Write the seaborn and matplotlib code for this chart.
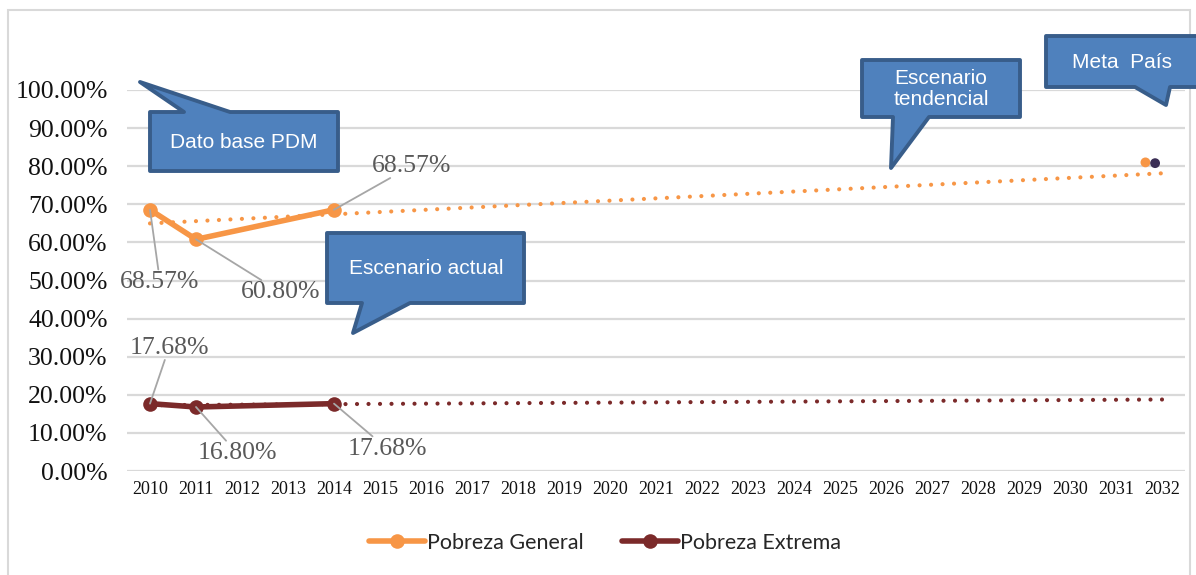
import numpy as np
import pandas as pd
import matplotlib
matplotlib.use("Agg")
import matplotlib.pyplot as plt
import seaborn as sns
from matplotlib import font_manager
from matplotlib.patches import Polygon, Rectangle
from matplotlib.lines import Line2D

# ---------------- data ----------------
years = ["2010", "2011", "2012", "2013", "2014", "2015", "2016", "2017", "2018",
         "2019", "2020", "2021", "2022", "2023", "2024", "2025", "2026", "2027",
         "2028", "2029", "2030", "2031", "2032"]
obs_years = ["2010", "2011", "2014"]
pobreza_general = [68.57, 60.80, 68.57]
pobreza_extrema = [17.68, 16.80, 17.68]
meta_year = "2032"
meta_pais = [81.0, 80.8]
series_names = ["Pobreza General", "Pobreza Extrema"]
y_ticks = [0, 10, 20, 30, 40, 50, 60, 70, 80, 90, 100]

# ---------------- style ----------------
W, H = 1196, 575
DPI = 100
C_GEN = "#F79646"
C_EXT = "#7B2A2A"
C_META2 = "#3B2E55"
C_GRID = "#D9D9D9"
C_LABEL = "#595959"
C_FILL = "#4F81BD"
C_EDGE = "#385D8A"

sns.set_theme(style="white")
avail = {f.name for f in font_manager.fontManager.ttflist}
serif = "Liberation Serif" if "Liberation Serif" in avail else "DejaVu Serif"
narrow = "Liberation Sans Narrow" if "Liberation Sans Narrow" in avail else "Liberation Sans"
legfont = "Lato" if "Lato" in avail else "DejaVu Sans"
plt.rcParams["font.family"] = [serif, "DejaVu Serif"]

fig = plt.figure(figsize=(W / DPI, H / DPI), dpi=DPI)
fig.patch.set_facecolor("white")

def fx(px):
    return px / W

def fy(py):
    return 1 - py / H

# outer chart border
fig.add_artist(Rectangle((fx(8), fy(600)), fx(1190) - fx(8), fy(10) - fy(600),
                         transform=fig.transFigure, fill=False,
                         edgecolor=C_GRID, linewidth=1.5, zorder=0))

ax = fig.add_axes([fx(127), fy(471), fx(1185) - fx(127), fy(90) - fy(471)])
ax.set_facecolor("none")

idx = {y: i for i, y in enumerate(years)}
obs_idx = [idx[y] for y in obs_years]

df = pd.DataFrame({
    "x": obs_idx * 2,
    "y": pobreza_general + pobreza_extrema,
    "serie": [series_names[0]] * 3 + [series_names[1]] * 3,
})

# trend lines (linear regression across the full category span)
ax.set_xlim(0, len(years) - 1)
for vals, col in [(pobreza_general, C_GEN), (pobreza_extrema, C_EXT)]:
    sns.regplot(x=obs_idx, y=vals, ax=ax, ci=None, scatter=False, truncate=False,
                line_kws=dict(color=col, lw=3.0, linestyle=(0, (0.01, 2.75)),
                              dash_capstyle="round", zorder=3))

# observed series
sns.lineplot(data=df, x="x", y="y", hue="serie", palette=[C_GEN, C_EXT],
             marker="o", markersize=10.5, markeredgewidth=0, linewidth=4.0,
             ax=ax, legend=False, zorder=4)
for l in ax.lines:
    l.set_clip_on(False)

# meta pais points
mx = idx[meta_year]
ax.scatter([mx - 0.36, mx - 0.15], meta_pais, s=50, c=[C_GEN, C_META2],
           zorder=5, clip_on=False, linewidths=0)

ax.set_xlim(-0.5, len(years) - 0.5)
ax.set_ylim(0, 100)
ax.set_yticks(y_ticks)
ax.set_yticklabels([f"{v:.2f}%" for v in y_ticks])
ax.set_xticks(range(len(years)))
ax.set_xticklabels(years)
ax.tick_params(axis="y", labelsize=18.5, pad=14, length=0, labelcolor="#111111")
ax.tick_params(axis="x", labelsize=13, pad=7, length=0, labelcolor="#111111")
ax.grid(axis="y", color=C_GRID, linewidth=1.6)
ax.grid(axis="x", visible=False)
ax.set_axisbelow(True)
for s in ax.spines.values():
    s.set_visible(False)
ax.set_xlabel("")
ax.set_ylabel("")

# data labels with leader lines
offsets_gen = [(10, -72), (85, -53), (78, 44)]
offsets_ext = [(19, 56), (41, -46), (53, -45)]
for vals, offs in [(pobreza_general, offsets_gen), (pobreza_extrema, offsets_ext)]:
    for xi, v, (dx, dy) in zip(obs_idx, vals, offs):
        ax.annotate(f"{v:.2f}%", xy=(xi, v), xytext=(dx, dy),
                    textcoords="offset pixels", ha="center", va="center",
                    fontsize=18.5, color=C_LABEL,
                    bbox=dict(boxstyle="square,pad=0.05", fc="none", ec="none"),
                    arrowprops=dict(arrowstyle="-", color="#A6A6A6", lw=1.3,
                                    shrinkA=0, shrinkB=0),
                    annotation_clip=False, zorder=6)

# callouts (figure pixel geometry)
callouts = [
    ("Dato base PDM", (244, 142),
     [(150, 112), (184, 112), (140, 82), (230, 112), (338, 112), (338, 171), (150, 171)]),
    ("Escenario actual", (426, 268),
     [(327, 233), (524, 233), (524, 303), (410, 303), (353, 333), (362, 303), (327, 303)]),
    ("Escenario\ntendencial", (941, 89),
     [(862, 60), (1020, 60), (1020, 117), (929, 117), (891, 168), (893, 117), (862, 117)]),
    ("Meta  País", (1122, 62),
     [(1046, 36), (1205, 36), (1205, 87), (1170, 87), (1166, 105), (1135, 87), (1046, 87)]),
]
for text, (tx, ty), pts in callouts:
    poly = Polygon([(fx(px), fy(py)) for px, py in pts], closed=True,
                   transform=fig.transFigure, facecolor=C_FILL, edgecolor=C_EDGE,
                   linewidth=2.8, joinstyle="round", zorder=10)
    fig.add_artist(poly)
    fig.text(fx(tx), fy(ty), text, ha="center", va="center", color="white",
             fontsize=15, family=[narrow, "DejaVu Sans"], zorder=11,
             linespacing=1.1)

# legend
handles = [Line2D([0], [0], color=C_GEN, lw=4.0, marker="o", markersize=10.5, markeredgewidth=0),
           Line2D([0], [0], color=C_EXT, lw=4.0, marker="o", markersize=10.5, markeredgewidth=0)]
fig.legend(handles, series_names, loc="center", bbox_to_anchor=(fx(605), fy(543)),
           ncol=2, frameon=False, handlelength=2.6, handletextpad=0.1,
           columnspacing=1.8, prop={"family": legfont, "size": 15.5})

fig.savefig("out.png", dpi=DPI, facecolor="white")
